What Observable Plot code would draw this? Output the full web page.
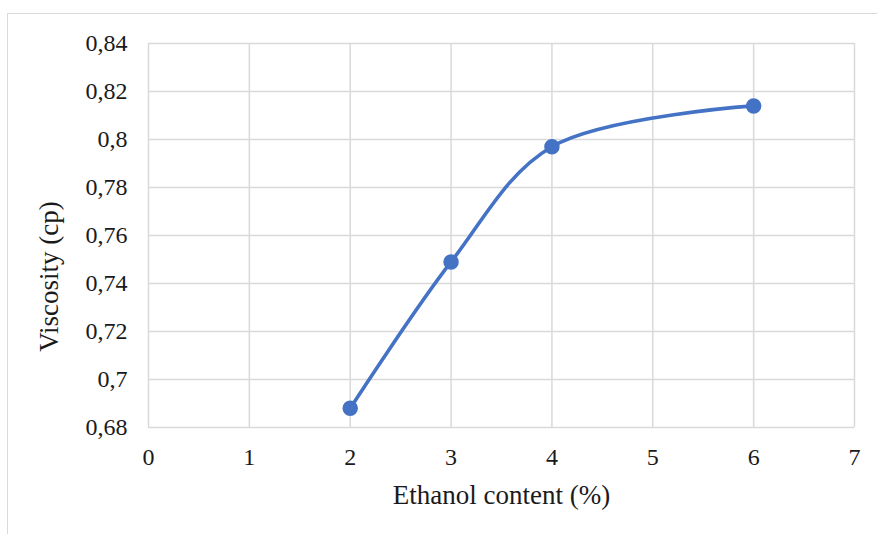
<!DOCTYPE html>
<html>
<head>
<meta charset="utf-8">
<script src="https://cdn.jsdelivr.net/npm/d3@7"></script>
<script src="https://cdn.jsdelivr.net/npm/@observablehq/plot@0.6"></script>
<style>
  html, body { margin: 0; padding: 0; background: #fff; overflow: hidden; }
  #wrap { position: relative; width: 877px; height: 534px; }
  #frame { position: absolute; left: 7px; top: 13px; width: 1000px; height: 700px; border: 1.5px solid #d9d9d9; box-sizing: border-box; }
  #chart { position: absolute; left: 0; top: 0; }
</style>
</head>
<body>
<div id="wrap"><div id="frame"></div><div id="chart"></div></div>
<script>
const ethanol = [2, 3, 4, 6];
const viscosity = [0.688, 0.749, 0.797, 0.814];
const xTicks = [0, 1, 2, 3, 4, 5, 6, 7];
const yTicks = [0.68, 0.70, 0.72, 0.74, 0.76, 0.78, 0.80, 0.82, 0.84];
const xTitle = "Ethanol content (%)";
const yTitle = "Viscosity (cp)";

const data = ethanol.map((x, i) => ({x, y: viscosity[i]}));
const fmt = d => String(+d.toFixed(2)).replace(".", ",");
const font = "'Liberation Serif', 'DejaVu Serif', serif";
const blue = "#4472C4";
const grid = "#d9d9d9";
const ink = "#1a1a1a";

const chart = Plot.plot({
  width: 877,
  height: 534,
  marginLeft: 148,
  marginRight: 23,
  marginTop: 43,
  marginBottom: 107,
  style: {fontFamily: font, fontSize: "24px", color: ink, background: "transparent"},
  x: {domain: [0, 7]},
  y: {domain: [0.68, 0.84]},
  marks: [
    Plot.gridX(xTicks, {stroke: grid, strokeOpacity: 1, strokeWidth: 1.5}),
    Plot.gridY(yTicks, {stroke: grid, strokeOpacity: 1, strokeWidth: 1.5}),
    Plot.axisX(xTicks, {tickSize: 0, tickPadding: 20, tickFormat: d => String(d), label: null, fontSize: 24, fill: ink}),
    Plot.axisY(yTicks, {tickSize: 0, tickPadding: 21, tickFormat: fmt, label: null, fontSize: 24, fill: ink}),
    Plot.line(data, {x: "x", y: "y", stroke: blue, strokeWidth: 3.6, curve: "catmull-rom"}),
    Plot.dot(data, {x: "x", y: "y", r: 7, fill: blue, stroke: blue}),
    Plot.text([xTitle], {frameAnchor: "bottom", textAnchor: "middle", dy: 76, fontSize: 27, fill: ink}),
    Plot.text([yTitle], {frameAnchor: "left", textAnchor: "middle", lineAnchor: "middle", dx: -99, dy: 41, rotate: -90, fontSize: 27, fill: ink})
  ]
});
document.getElementById("chart").appendChild(chart);
</script>
</body>
</html>
